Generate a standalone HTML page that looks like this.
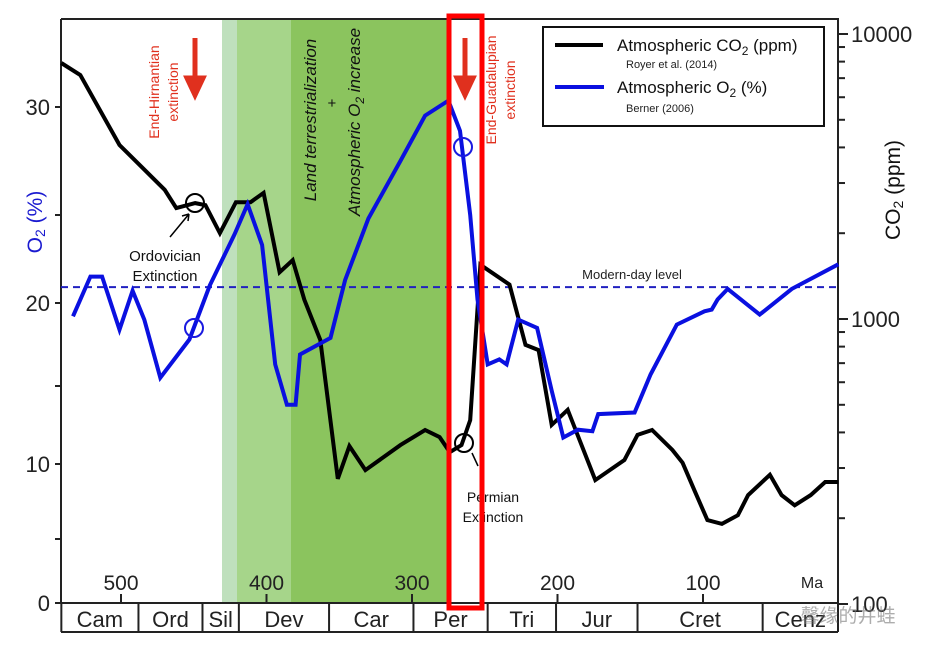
<!DOCTYPE html>
<html><head><meta charset="utf-8"><style>
body{margin:0;background:#fff;}
svg{display:block;font-family:"Liberation Sans","Noto Sans CJK SC",sans-serif;}
</style></head><body>
<svg id="chart" width="939" height="656" viewBox="0 0 939 656">
<rect x="0" y="0" width="939" height="656" fill="#fff"/>
<g id="bands"></g>
<g id="axes"></g>
<g id="series"></g>
<g id="annot"></g>
</svg>
<script>
// ---- data ----
const co2Ages=[541,528,501,470,462,449,442,432,421,411,402,391,382,374,363,351,343,332,308,291,281,274,266,260,253,233,222,213,204,193,174,154,145,135,121,114,106,97,87,76,69,54,46,37,26,16,7];
const co2Ppm=[7910,7180,4080,2840,2450,2550,2510,2000,2570,2570,2770,1460,1610,1170,844,275,358,295,361,408,385,341,361,442,1550,1320,811,778,425,480,272,320,392,408,347,313,251,197,191,205,241,284,241,222,241,268,268];
const o2Ages=[533,521,513,501,492,484,473,453,439,422,413,403,394,386,380,377,356,346,330,308,291,275,267,260,255,248,240,235,227,214,204,196,186,176,172,147,136,118,99,94,90,83,61,39,7];
const o2Pct=[19.2,21.5,21.5,18.4,20.7,19.0,15.5,17.8,21.0,23.9,25.5,23.3,16.3,13.8,13.8,16.9,17.9,21.3,24.8,27.5,29.6,30.3,28.9,25.0,20.2,16.3,16.6,16.3,19.0,18.5,14.7,11.7,12.2,12.1,13.2,13.3,15.7,18.7,19.5,19.6,20.2,20.8,19.3,20.8,22.2];
const xTicks=[500,400,300,200,100];
const o2Ticks=[0,10,20,30];
const co2Ticks=[100,1000,10000];
const periods=["Cam","Ord","Sil","Dev","Car","Per","Tri","Jur","Cret","Cenz"];
const periodBounds=[541,488,444,419,357,299,248,201,145,59,7];
const modernO2=20.9;

// ---- scales ----
const NS="http://www.w3.org/2000/svg";
function X(age){return 121+(500-age)*1.455;}
const o2KeyV=[0,5,10,15,20,25,30,35];
const o2KeyY=[603,539,464,386,303,215,107,0];
function YL(v){for(let i=0;i<o2KeyV.length-1;i++){if(v<=o2KeyV[i+1]){const t=(v-o2KeyV[i])/(o2KeyV[i+1]-o2KeyV[i]);return o2KeyY[i]+t*(o2KeyY[i+1]-o2KeyY[i]);}}return 107-(v-30)*21.6;}
function YR(p){return 319-(Math.log10(p)-3)*285;}
function mk(tag,attrs,parent,text){const e=document.createElementNS(NS,tag);for(const k in attrs)e.setAttribute(k,attrs[k]);if(text!==undefined)e.textContent=text;parent.appendChild(e);return e;}
const bands=document.getElementById('bands'),axes=document.getElementById('axes'),series=document.getElementById('series'),annot=document.getElementById('annot');

// bands
let b;
b=mk('rect',{x:222,y:19,width:15,height:584,fill:'#bfe0bd'},bands);

b=mk('rect',{x:237,y:19,width:54,height:584,fill:'#a6d58a'},bands);

b=mk('rect',{x:291,y:19,width:157,height:584,fill:'#8bc45e'},bands);


// frame
b=mk('path',{d:'M61,19 H838 V603 M61,19 V603',fill:'none',stroke:'#222','stroke-width':2},axes);

for(let v=0;v<=30;v+=5){const y=YL(v);const t=mk('line',{x1:55,x2:61,y1:y,y2:y,stroke:'#222','stroke-width':2},axes);
}
o2Ticks.forEach(v=>{const t=mk('text',{x:50,y:YL(v)+8,'font-size':22,'text-anchor':'end',fill:'#222'},axes,String(v));
});
for(let d=100;d<=10000;d*=10){for(let m=1;m<10;m++){const p=d*m;if(p>10000)break;const y=YR(p);const major=(m===1);
const t=mk('line',{x1:838,x2:major?848:845,y1:y,y2:y,stroke:'#222','stroke-width':2},axes);
}}
co2Ticks.forEach(v=>{const t=mk('text',{x:851,y:YR(v)+8,'font-size':22,fill:'#222'},axes,String(v));
});
xTicks.forEach(v=>{const x=X(v);const l=mk('line',{x1:x,x2:x,y1:594,y2:603,stroke:'#222','stroke-width':2},axes);

const t=mk('text',{x:x,y:590,'font-size':21,'text-anchor':'middle',fill:'#222'},axes,String(v));
});
b=mk('text',{x:812,y:588,'font-size':16,'text-anchor':'middle',fill:'#222'},axes,'Ma');

b=mk('path',{d:'M61,603 H838 M61,632 H838',stroke:'#222','stroke-width':2,fill:'none'},axes);

periodBounds.forEach(a=>{const x=Math.min(838,X(a));const l=mk('line',{x1:x,x2:x,y1:603,y2:632,stroke:'#222','stroke-width':2},axes);
});
periods.forEach((p,i)=>{const x=(Math.min(838,X(periodBounds[i]))+Math.min(838,X(periodBounds[i+1])))/2;
const t=mk('text',{x:x,y:627,'font-size':22,'text-anchor':'middle',fill:'#222'},axes,p);
});

b=mk('line',{x1:61,x2:838,y1:YL(modernO2),y2:YL(modernO2),stroke:'#2020c0','stroke-width':2,'stroke-dasharray':'7,5'},series);

b=mk('text',{x:632,y:279,'font-size':13,'text-anchor':'middle',fill:'#222'},series,'Modern-day level');


let d=co2Ages.map((a,i)=>(i?'L':'M')+X(a).toFixed(1)+','+YR(co2Ppm[i]).toFixed(1)).join(' ');
b=mk('path',{d:d,fill:'none',stroke:'#000','stroke-width':4,'stroke-linejoin':'miter'},series);

d=o2Ages.map((a,i)=>(i?'L':'M')+X(a).toFixed(1)+','+YL(o2Pct[i]).toFixed(1)).join(' ');
b=mk('path',{d:d,fill:'none',stroke:'#0a10e0','stroke-width':4},series);


[[194,328,'#1a1ae0','o2-ordovician-marker'],[463,147,'#1a1ae0','o2-permian-marker'],[195,203,'#000','co2-ordovician-marker'],[464,443,'#000','co2-permian-marker']].forEach(c=>{
const e=mk('circle',{cx:c[0],cy:c[1],r:9,fill:'none',stroke:c[2],'stroke-width':2},annot);
});

b=mk('path',{d:'M170,237 L189,214 M189,214 l-7,2 M189,214 l-1,7',stroke:'#000','stroke-width':1.5,fill:'none'},annot);

b=mk('text',{x:165,y:261,'font-size':15,'text-anchor':'middle',fill:'#111'},annot,'Ordovician');

b=mk('text',{x:165,y:281,'font-size':15,'text-anchor':'middle',fill:'#111'},annot,'Extinction');

b=mk('path',{d:'M472,453 L478,466',stroke:'#000','stroke-width':1.5,fill:'none'},annot);

b=mk('text',{x:493,y:502,'font-size':14,'text-anchor':'middle',fill:'#111'},annot,'Permian');

b=mk('text',{x:493,y:522,'font-size':14,'text-anchor':'middle',fill:'#111'},annot,'Extinction');


[[195,'hirnantian-arrow'],[465,'guadalupian-arrow']].forEach(a=>{
const e=mk('path',{d:`M${a[0]},38 V80 M${a[0]-8},78 L${a[0]},95 L${a[0]+8},78 Z`,stroke:'#e0301e','stroke-width':5,fill:'#e0301e'},annot);
});
b=mk('text',{transform:'translate(159,92) rotate(-90)','font-size':14,'text-anchor':'middle',fill:'#e0301e'},annot,'End-Hirnantian');

b=mk('text',{transform:'translate(178,92) rotate(-90)','font-size':14,'text-anchor':'middle',fill:'#e0301e'},annot,'extinction');

b=mk('text',{transform:'translate(496,90) rotate(-90)','font-size':14,'text-anchor':'middle',fill:'#e0301e'},annot,'End-Guadalupian');

b=mk('text',{transform:'translate(515,90) rotate(-90)','font-size':14,'text-anchor':'middle',fill:'#e0301e'},annot,'extinction');


b=mk('text',{transform:'translate(316,120) rotate(-90)','font-size':17,'font-style':'italic','text-anchor':'middle',fill:'#111'},annot,'Land terrestrialization');

b=mk('text',{transform:'translate(337,103) rotate(-90)','font-size':15,'text-anchor':'middle',fill:'#111'},annot,'+');

b=mk('text',{transform:'translate(360,122) rotate(-90)','font-size':17,'font-style':'italic','text-anchor':'middle',fill:'#111'},annot);

b.innerHTML='Atmospheric O<tspan font-size="12" dy="4">2</tspan><tspan dy="-4"> increase</tspan>';

b=mk('rect',{x:449,y:16,width:33,height:592,fill:'none',stroke:'#ff0000','stroke-width':5},annot);


b=mk('rect',{x:543,y:27,width:281,height:99,fill:'#fff',stroke:'#111','stroke-width':2},annot);

b=mk('line',{x1:555,x2:603,y1:45,y2:45,stroke:'#000','stroke-width':4},annot);

b=mk('text',{x:617,y:51,'font-size':17,fill:'#111'},annot);

b.innerHTML='Atmospheric CO<tspan font-size="12" dy="4">2</tspan><tspan dy="-4"> (ppm)</tspan>';
b=mk('text',{x:626,y:68,'font-size':11,fill:'#222'},annot,'Royer et al. (2014)');

b=mk('line',{x1:555,x2:604,y1:87,y2:87,stroke:'#0a10e0','stroke-width':4},annot);

b=mk('text',{x:617,y:93,'font-size':17,fill:'#111'},annot);

b.innerHTML='Atmospheric O<tspan font-size="12" dy="4">2</tspan><tspan dy="-4"> (%)</tspan>';
b=mk('text',{x:626,y:112,'font-size':11,fill:'#222'},annot,'Berner (2006)');


b=mk('text',{transform:'translate(42,222) rotate(-90)','font-size':21,'text-anchor':'middle',fill:'#1a1ad0'},annot);

b.innerHTML='O<tspan font-size="14" dy="3">2</tspan><tspan dy="-3"> (%)</tspan>';
b=mk('text',{transform:'translate(900,190) rotate(-90)','font-size':21,'text-anchor':'middle',fill:'#111'},annot);

b.innerHTML='CO<tspan font-size="14" dy="3">2</tspan><tspan dy="-3"> (ppm)</tspan>';

b=mk('text',{x:848,y:622,'font-size':19,'text-anchor':'middle',fill:'#777','fill-opacity':0.6},annot,'馨缘的井蛙');

</script>
</body></html>
